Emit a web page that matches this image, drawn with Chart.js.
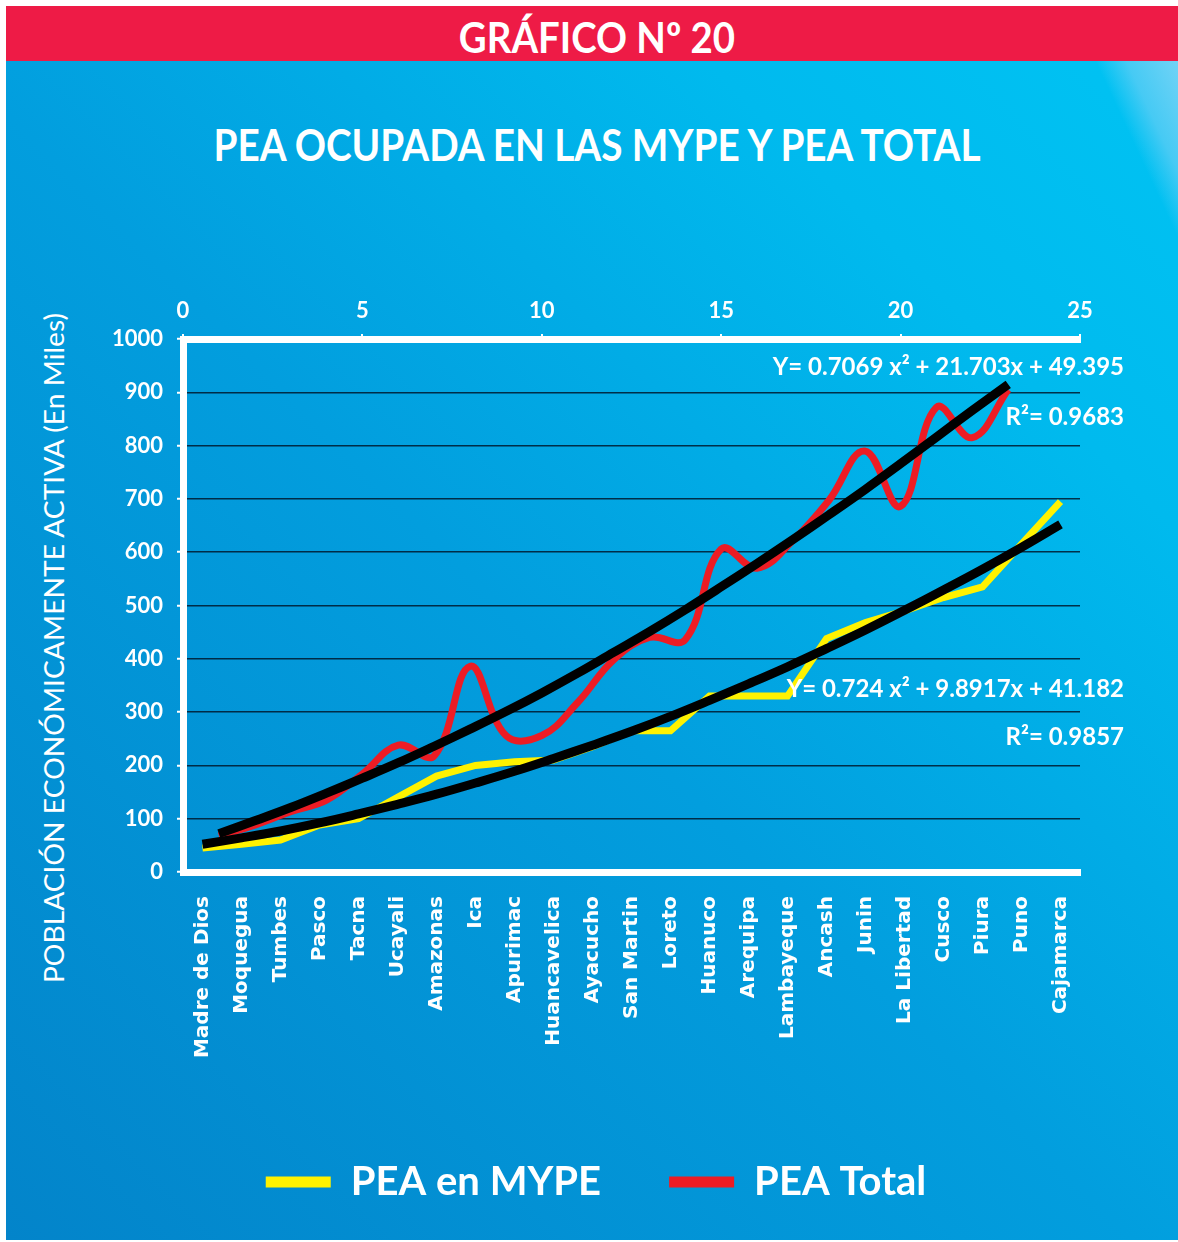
<!DOCTYPE html>
<html>
<head>
<meta charset="utf-8">
<script src="https://cdn.jsdelivr.net/npm/chart.js@4.4.1/dist/chart.umd.min.js"></script>
<style>
  html, body { margin: 0; padding: 0; background: #fff; }
  body { width: 1178px; height: 1242px; position: relative; overflow: hidden; font-family: Lato, "Open Sans", sans-serif; }
  #banner { position: absolute; left: 6px; top: 6px; width: 1172px; height: 55px; background: #ee1b46; }
  #panel {
    position: absolute; left: 6px; top: 61px; width: 1172px; height: 1179px;
    background:
      linear-gradient(245deg, rgba(125,212,246,0.9) 0%, rgba(100,206,245,0.7) 3%, rgba(0,192,240,0) 4.8%),
      linear-gradient(45deg, #0384ca 0%, #029ede 48%, #00baee 80%, #00c3f3 100%);
  }
  .txt { position: absolute; white-space: nowrap; color: #fff; line-height: 1; }
  #banner-text { font-weight: bold; font-size: 42px; }
  #title { font-weight: bold; font-size: 44px; }
  #ytitle { font-weight: normal; font-size: 27px; }
  #wrap { position: absolute; left: 0; top: 0; width: 1178px; height: 1242px; }
</style>
</head>
<body>
<div id="banner"></div>
<div id="panel"></div>
<span class="txt" id="banner-text">GRÁFICO Nº 20</span>
<span class="txt" id="title">PEA OCUPADA EN LAS MYPE Y PEA TOTAL</span>
<span class="txt" id="ytitle">POBLACIÓN ECONÓMICAMENTE ACTIVA (En Miles)</span>
<div id="wrap"><canvas id="chart"></canvas></div>
<script>
// regiones (eje inferior)
const categories = ["Madre de Dios", "Moquegua", "Tumbes", "Pasco", "Tacna", "Ucayali", "Amazonas", "Ica",
  "Apurimac", "Huancavelica", "Ayacucho", "San Martin", "Loreto", "Huanuco", "Arequipa", "Lambayeque",
  "Ancash", "Junin", "La Libertad", "Cusco", "Piura", "Puno", "Cajamarca"];

// PEA en MYPE (miles), una por region
const mypeValues = [45, 52, 60, 88, 100, 140, 180, 200, 207, 210, 235, 265, 265, 330, 330, 330, 438, 468, 490, 515, 535, 615, 695];
// linea de tendencia MYPE
const mypeTrend = [52, 64, 77, 92, 109, 127, 146, 167, 189, 213, 238, 264, 292, 322, 353, 385, 419, 454, 491, 529, 568, 609, 652];

// PEA Total (miles) sobre el eje superior 0-25
const totalX = [1, 2, 3, 4, 5, 6, 7, 8, 9, 10, 11, 12, 13, 14, 15, 16, 17, 18, 19, 20, 21, 22, 23];
const totalValues = [68, 88, 113, 135, 184, 238, 218, 386, 256, 256, 318, 398, 440, 436, 606, 570, 622, 697, 790, 686, 872, 815, 905];
const totalTrend = [72, 96, 121, 148, 176, 205, 236, 268, 301, 336, 373, 412, 451, 492, 535, 579, 624, 670, 717, 766, 816, 866, 915];

const legendNames = ["PEA en MYPE", "PEA Total"];
const equationLabels = ["Y= 0.7069 x² + 21.703x + 49.395", "R²= 0.9683", "Y= 0.724 x² + 9.8917x + 41.182", "R²= 0.9857"];
const equationLevels = [947, 853, 343, 252];

function placeText(id, cx, cy, targetWidth, angle) {
    const el = document.getElementById(id);
    const sx = targetWidth / el.offsetWidth;
    el.style.left = cx + "px";
    el.style.top = cy + "px";
    el.style.transform = `translate(-50%,-50%) rotate(${angle}deg) scaleX(${sx})`;
}
placeText("banner-text", 597, 37, 276, 0);
placeText("title", 597, 144, 767, 0);
placeText("ytitle", 53, 648, 670, -90);

const PAD_L = 14;
const tickFont = { family: "Lato", size: 22, weight: "bold" };

const equationPlugin = {
    id: "equations",
    afterDatasetsDraw(chart) {
        const { ctx, chartArea, scales } = chart;
        ctx.save();
        ctx.fillStyle = "#fff";
        ctx.font = "bold 24px Lato";
        ctx.textAlign = "right";
        ctx.textBaseline = "middle";
        equationLabels.forEach((txt, i) => {
            ctx.fillText(txt, chartArea.right + 44, scales.y.getPixelForValue(equationLevels[i]));
        });
        ctx.restore();
    }
};

new Chart(document.getElementById("chart"), {
    type: "line",
    data: {
        labels: categories,
        datasets: [
            {
                label: legendNames[0], data: mypeValues, xAxisID: "x",
                borderColor: "#fff200", backgroundColor: "#fff200", borderWidth: 7,
                pointRadius: 0, tension: 0, order: 3
            },
            {
                label: legendNames[1], data: totalX.map((x, i) => ({ x, y: totalValues[i] })), xAxisID: "x2",
                borderColor: "#ed1c24", backgroundColor: "#ed1c24", borderWidth: 7,
                pointRadius: 0, tension: 0.4, order: 4
            },
            {
                label: "trend MYPE", data: mypeTrend, xAxisID: "x",
                borderColor: "#000", backgroundColor: "#000", borderWidth: 9,
                pointRadius: 0, tension: 0.4, order: 2
            },
            {
                label: "trend Total", data: totalX.map((x, i) => ({ x, y: totalTrend[i] })), xAxisID: "x2",
                borderColor: "#000", backgroundColor: "#000", borderWidth: 9,
                pointRadius: 0, tension: 0.4, order: 1
            }
        ]
    },
    options: {
        responsive: true,
        maintainAspectRatio: false,
        animation: false,
        layout: { padding: { left: PAD_L, right: 0, top: 0, bottom: 30 } },
        plugins: {
            tooltip: { enabled: false },
            legend: {
                position: "bottom",
                labels: {
                    color: "#fff",
                    boxWidth: 65,
                    boxHeight: 11,
                    padding: 68,
                    font: { family: "Lato", size: 40, weight: "bold" },
                    generateLabels: chart => Chart.defaults.plugins.legend.labels.generateLabels(chart)
                        .filter(l => legendNames.includes(l.text))
                        .map(l => ({ ...l, lineWidth: 0 }))
                }
            }
        },
        scales: {
            x: {
                type: "category",
                position: "bottom",
                offset: true,
                grid: { display: false, drawTicks: false },
                border: { display: true, color: "#fff", width: 7 },
                ticks: {
                    color: "#fff", autoSkip: false, maxRotation: 90, minRotation: 90, padding: 24,
                    font: { family: "'DejaVu Sans'", size: 20, weight: "bold" }
                },
                afterFit: s => { s.height = 222; }
            },
            x2: {
                type: "linear",
                position: "top",
                min: 0, max: 25,
                ticks: { stepSize: 5, color: "#fff", font: tickFont, padding: 10 },
                grid: { drawOnChartArea: false, color: "#fff", tickColor: "#fff", tickLength: 5, lineWidth: 2 },
                border: { display: true, color: "#fff", width: 7 },
                afterFit: s => { s.height = 339; }
            },
            y: {
                min: 0, max: 1000,
                ticks: { stepSize: 100, color: "#fff", font: tickFont, padding: 14, callback: v => String(v) },
                grid: { color: "rgba(0,25,45,0.85)", lineWidth: 1.5, tickColor: "#fff", tickLength: 6, tickWidth: 2 },
                border: { display: true, color: "#fff", width: 7 },
                afterFit: s => { s.width = 183 - PAD_L; }
            },
            yRight: {
                position: "right",
                ticks: { display: false },
                grid: { display: false, drawTicks: false },
                border: { display: false },
                afterFit: s => { s.width = 98; }
            }
        }
    },
    plugins: [equationPlugin]
});
</script>
</body>
</html>
